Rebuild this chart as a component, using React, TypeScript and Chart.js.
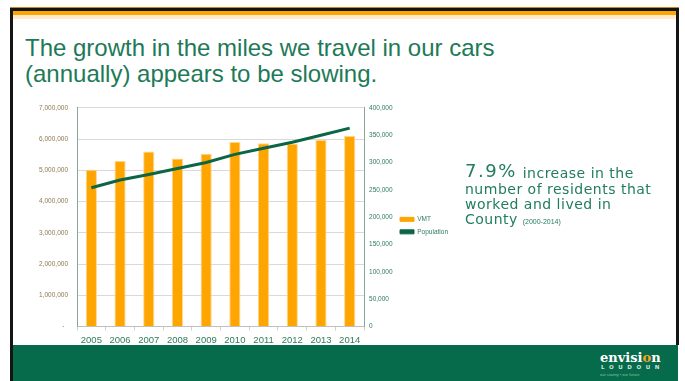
import React, { useEffect, useRef } from 'react';
import { Chart, registerables } from 'chart.js';

Chart.register(...registerables);

// ---- data ----
const years = ['2005', '2006', '2007', '2008', '2009', '2010', '2011', '2012', '2013', '2014'];
const vmt = [5020000, 5300000, 5600000, 5380000, 5530000, 5910000, 5870000, 5860000, 5970000, 6100000];
const population = [254000, 268000, 278000, 289000, 300000, 315000, 326000, 337000, 350000, 363000];
const vmtAxis = [0, 7000000, 1000000]; // min, max, step
const popAxis = [0, 400000, 50000]; // min, max, step
const seriesNames = ['VMT', 'Population'];
const titleLines = ['The growth in the miles we travel in our cars', '(annually) appears to be slowing.'];

// ---- styles ----
const FONT = 'Liberation Sans';
const ORANGE = '#FFA500';
const LINE_GREEN = '#0A6645';
const TEXT_GREEN = '#217D5C';
const AXIS_GREEN = '#2F7A5C';

function fmt(v: number) {
  return Number(v).toLocaleString('en-US');
}

export default function App() {
  const ref = useRef<HTMLCanvasElement>(null);

  useEffect(() => {
    const canvas = ref.current;
    if (!canvas) return;
    const chart = new Chart(canvas, {
      type: 'bar',
      data: {
        labels: years,
        datasets: [
          {
            type: 'line',
            label: seriesNames[1],
            data: population,
            yAxisID: 'y1',
            borderColor: LINE_GREEN,
            backgroundColor: LINE_GREEN,
            borderWidth: 3,
            pointRadius: 0,
            fill: false,
            tension: 0,
            order: 0,
          } as any,
          {
            type: 'bar',
            label: seriesNames[0],
            data: vmt,
            yAxisID: 'y',
            backgroundColor: ORANGE,
            borderColor: '#FFD58A',
            borderWidth: 1,
            barPercentage: 0.39,
            categoryPercentage: 1,
            order: 1,
          } as any,
        ],
      },
      options: {
        responsive: false,
        maintainAspectRatio: false,
        animation: false,
        layout: { padding: { top: 11.7, left: 0, right: 14, bottom: 5.5 } },
        plugins: {
          tooltip: { enabled: false },
          legend: {
            position: 'right',
            align: 'center',
            labels: {
              boxWidth: 14,
              boxHeight: 4,
              padding: 6,
              color: AXIS_GREEN,
              font: { family: FONT, size: 6.5 },
              generateLabels: () => [
                { text: seriesNames[0], fillStyle: ORANGE, strokeStyle: ORANGE, lineWidth: 1, hidden: false, datasetIndex: 1, fontColor: AXIS_GREEN } as any,
                { text: seriesNames[1], fillStyle: LINE_GREEN, strokeStyle: LINE_GREEN, lineWidth: 1, hidden: false, datasetIndex: 0, fontColor: AXIS_GREEN } as any,
              ],
            },
          },
        },
        scales: {
          x: {
            grid: { display: true, drawOnChartArea: false, drawTicks: true, tickLength: 4, color: '#D0D0D0', offset: true },
            border: { display: true, color: '#BFBFBF' },
            ticks: { color: AXIS_GREEN, font: { family: FONT, size: 9.5 }, padding: 4.5, maxRotation: 0, autoSkip: false },
            afterFit: (s: any) => { s.height = 18; },
          },
          y: {
            position: 'left',
            min: vmtAxis[0],
            max: vmtAxis[1],
            grid: { color: '#D9D9D9', drawTicks: false },
            border: { color: '#8AA898' },
            ticks: {
              stepSize: vmtAxis[2],
              padding: 9,
              color: '#8C7A4E',
              font: { family: FONT, size: 6.5 },
              callback: (v: any) => (Number(v) === 0 ? '-  ' : fmt(v)),
            },
            afterFit: (s: any) => { s.width = 77; },
          },
          y1: {
            position: 'right',
            min: popAxis[0],
            max: popAxis[1],
            grid: { drawOnChartArea: false, drawTicks: false },
            border: { color: '#8AA898' },
            ticks: {
              stepSize: popAxis[2],
              padding: 5,
              color: AXIS_GREEN,
              font: { family: FONT, size: 6.5 },
              callback: (v: any) => fmt(v),
            },
            afterFit: (s: any) => { s.width = 30; },
          },
        },
      } as any,
    });
    return () => chart.destroy();
  }, []);

  const abs = (o: React.CSSProperties): React.CSSProperties => ({ position: 'absolute', ...o });
  const right: React.CSSProperties = { fontFamily: 'DejaVu Sans', fontSize: 14, letterSpacing: 0.5, lineHeight: 1, color: TEXT_GREEN, whiteSpace: 'nowrap' };

  return (
    <div style={abs({ left: 0, top: 0, width: 685, height: 381, background: '#fff', overflow: 'hidden', fontFamily: FONT })}>
      {/* slide frame */}
      <div style={abs({ left: 10, top: 7.3, width: 669, height: 1, background: '#C08A2A' })} />
      <div style={abs({ left: 10, top: 8.3, width: 669, height: 2.7, background: '#141414' })} />
      <div style={abs({ left: 12.7, top: 11, width: 663, height: 4, background: '#FFA500' })} />
      <div style={abs({ left: 12.7, top: 15, width: 663, height: 4.3, background: '#FFEBCB' })} />
      <div style={abs({ left: 10, top: 8.3, width: 2.7, height: 373, background: '#141414' })} />
      <div style={abs({ left: 675.8, top: 8.3, width: 3.2, height: 337, background: '#141414' })} />
      <div style={abs({ left: 12.7, top: 344.7, width: 665.3, height: 37, background: '#066B4B' })} />

      {/* title */}
      {titleLines.map((t, i) => (
        <div key={i} style={abs({ left: 25, top: i === 0 ? 36.4 : 62, fontSize: 24, lineHeight: 1, color: '#1D7A58', whiteSpace: 'nowrap' })}>{t}</div>
      ))}

      {/* chart */}
      <canvas ref={ref} width={472} height={255} style={abs({ left: 0, top: 95, width: 472, height: 255 })} />

      {/* right text */}
      <div style={abs({ ...right, left: 465, top: 162.3, fontSize: 18, letterSpacing: 1.5 })}>7.9%</div>
      <div style={abs({ ...right, left: 522.7, top: 165.7 })}>increase in the</div>
      <div style={abs({ ...right, left: 465, top: 181.5 })}>number of residents that</div>
      <div style={abs({ ...right, left: 465, top: 197.2 })}>worked and lived in</div>
      <div style={abs({ ...right, left: 465, top: 212 })}>County</div>
      <div style={abs({ ...right, left: 522.7, top: 217.9, fontFamily: FONT, fontSize: 7, letterSpacing: 0 })}>(2000-2014)</div>

      {/* logo */}
      <div style={abs({ left: 600, top: 350.7, fontFamily: 'DejaVu Serif', fontWeight: 700, fontSize: 13, lineHeight: 1, color: '#fff', whiteSpace: 'nowrap' })}>
        envisi<span style={{ color: '#F5A623' }}>o</span>n
      </div>
      <div style={abs({ left: 601, top: 364.6, fontFamily: 'DejaVu Sans', fontWeight: 700, fontSize: 5.5, letterSpacing: 4.6, lineHeight: 1, color: '#D5E3DB', whiteSpace: 'nowrap' })}>LOUDOUN</div>
      <div style={abs({ left: 600, top: 373.1, fontSize: 4, lineHeight: 1, color: '#8FC1A6', whiteSpace: 'nowrap' })}>our county • our future</div>
    </div>
  );
}
